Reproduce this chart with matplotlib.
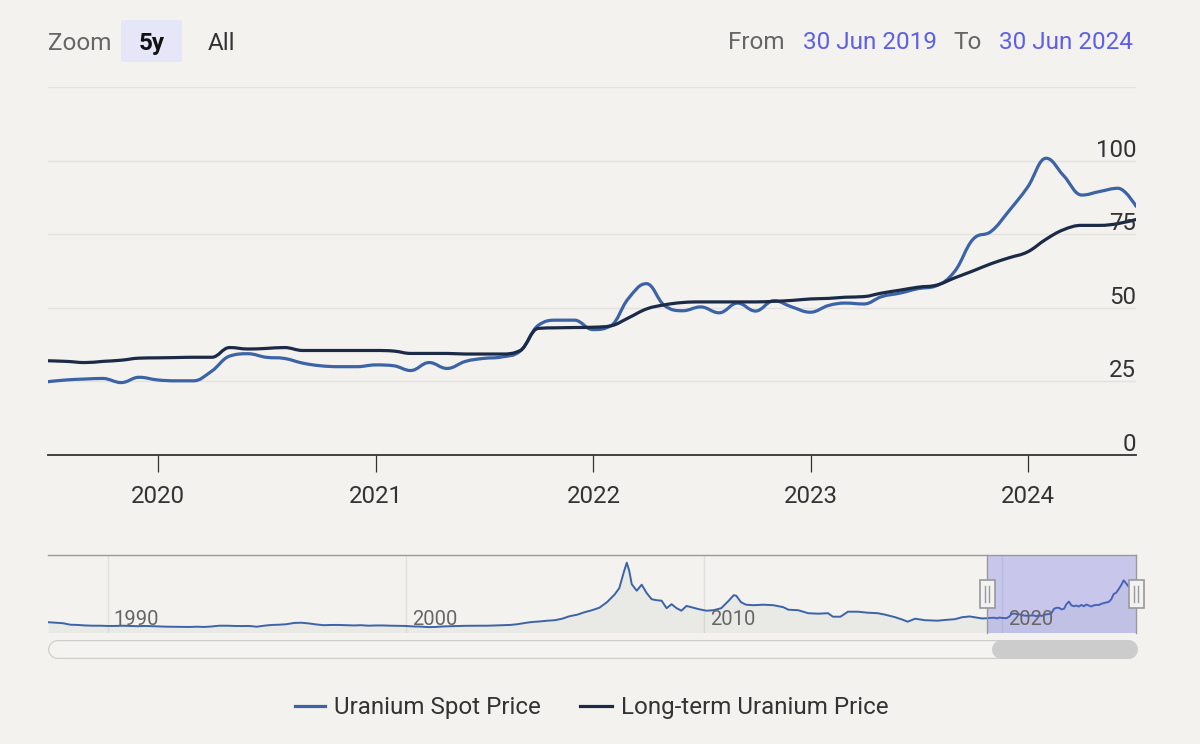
import matplotlib
matplotlib.use('Agg')
import matplotlib.pyplot as plt
import matplotlib.dates as mdates
import matplotlib.transforms as mtransforms
from matplotlib.path import Path
from matplotlib.patches import PathPatch, FancyBboxPatch, Rectangle
from matplotlib.lines import Line2D
import numpy as np
import pandas as pd

# ---------------- data ----------------
main_start = '2019-06-30'
main_end = '2024-06-30'

spot_price = [24.9, 25.5, 25.8, 26.0, 24.6, 26.4, 25.5, 25.2, 25.2, 28.5,
              33.6, 34.4, 33.2, 32.8, 31.2, 30.3, 30.0, 30.0, 30.6, 30.3,
              28.7, 31.4, 29.4, 31.8, 32.8, 33.3, 35.3, 44.0, 45.8, 45.8,
              42.6, 44.0, 53.0, 58.2, 50.8, 49.0, 50.3, 48.3, 51.6, 48.9,
              52.4, 50.3, 48.5, 50.8, 51.6, 51.3, 53.8, 55.0, 56.5, 57.5,
              62.5, 73.2, 76.0, 83.0, 91.0, 100.8, 95.0, 88.3, 89.5, 90.6,
              84.5]

long_term_price = [32.0, 31.8, 31.4, 31.8, 32.2, 32.9, 33.0, 33.1, 33.2, 33.2,
                   36.5, 36.0, 36.2, 36.5, 35.5, 35.5, 35.5, 35.5, 35.5, 35.3,
                   34.5, 34.5, 34.5, 34.3, 34.3, 34.3, 35.5, 43.0, 43.2, 43.3,
                   43.4, 43.9, 46.5, 49.6, 51.0, 51.8, 52.0, 52.0, 52.0, 52.0,
                   52.2, 52.5, 53.0, 53.2, 53.6, 53.8, 55.0, 56.0, 57.0, 57.7,
                   60.2, 62.5, 65.0, 67.0, 69.0, 73.3, 76.5, 78.0, 78.0, 78.6,
                   80.0]

history_dates = ['1988-01', '1988-04', '1988-07', '1988-10', '1989-01', '1989-04', '1989-07', '1989-10',
                 '1990-01', '1990-04', '1990-07', '1990-10', '1991-01', '1991-04', '1991-07', '1991-10',
                 '1992-01', '1992-04', '1992-07', '1992-10', '1993-01', '1993-04', '1993-07', '1993-10',
                 '1994-01', '1994-04', '1994-07', '1994-10', '1995-01', '1995-04', '1995-07', '1995-10',
                 '1996-01', '1996-04', '1996-07', '1996-10', '1997-01', '1997-04', '1997-07', '1997-10',
                 '1998-01', '1998-04', '1998-07', '1998-10', '1999-01', '1999-04', '1999-07', '1999-10',
                 '2000-01', '2000-04', '2000-07', '2000-10', '2001-01', '2001-04', '2001-07', '2001-10',
                 '2002-01', '2002-04', '2002-07', '2002-10', '2003-01', '2003-04', '2003-07', '2003-10',
                 '2004-01', '2004-04', '2004-07', '2004-10', '2005-01', '2005-04', '2005-07', '2005-10',
                 '2006-01', '2006-04', '2006-07', '2006-10', '2007-01', '2007-03', '2007-05', '2007-06',
                 '2007-07', '2007-08', '2007-10', '2007-12', '2008-02', '2008-04', '2008-06', '2008-08',
                 '2008-10', '2008-12', '2009-02', '2009-04', '2009-06', '2009-08', '2009-11', '2010-02',
                 '2010-05', '2010-08', '2010-11', '2011-01', '2011-02', '2011-04', '2011-06', '2011-09',
                 '2012-01', '2012-05', '2012-09', '2012-11', '2013-03', '2013-07', '2013-11', '2014-03',
                 '2014-05', '2014-08', '2014-11', '2015-03', '2015-07', '2015-11', '2016-02', '2016-06',
                 '2016-09', '2016-11', '2017-02', '2017-06', '2017-11', '2018-02', '2018-06', '2018-09',
                 '2018-12', '2019-03', '2019-05']
history_spot = [17.0, 16.0, 15.0, 12.0, 11.5, 10.5, 10.0, 10.0,
                9.5, 9.5, 10.0, 9.5, 9.0, 9.5, 9.0, 8.5,
                8.0, 7.8, 7.8, 7.5, 8.0, 7.5, 8.5, 10.0,
                10.0, 9.5, 9.3, 9.5, 8.0, 10.0, 11.5, 12.0,
                13.0, 15.5, 16.0, 14.5, 12.5, 11.0, 11.5, 11.5,
                11.0, 10.5, 11.0, 10.0, 10.5, 10.5, 10.0, 9.8,
                9.5, 8.5, 8.2, 7.2, 7.5, 8.5, 9.0, 9.3,
                9.8, 10.0, 10.0, 10.0, 10.5, 11.0, 11.5, 13.0,
                15.5, 17.5, 18.5, 20.0, 21.0, 24.0, 29.0, 32.0,
                37.0, 41.0, 46.0, 57.0, 72.0, 85.0, 120.0, 136.0,
                120.0, 93.0, 80.0, 92.0, 75.0, 63.0, 61.0, 60.0,
                45.0, 53.0, 45.0, 40.0, 49.5, 47.0, 43.0, 40.0,
                41.0, 45.0, 60.0, 71.0, 70.0, 57.0, 52.0, 51.0,
                52.0, 51.0, 47.0, 42.0, 41.0, 35.0, 34.0, 35.0,
                28.0, 28.0, 38.0, 38.0, 36.0, 35.0, 32.0, 27.0,
                22.0, 18.0, 24.0, 21.0, 20.0, 21.5, 23.0, 27.0,
                28.5, 26.0, 24.5]

y_ticks = [0, 25, 50, 75, 100]
x_tick_years = ['2020', '2021', '2022', '2023', '2024']
nav_years = ['1990', '2000', '2010', '2020']
series_names = ['Uranium Spot Price', 'Long-term Uranium Price']

# ---------------- style ----------------
BG = '#f3f2ee'
SPOT = '#3b63a6'
LONG = '#1b2a46'
GRID = '#e2e2e0'
FONT = ['Roboto', 'DejaVu Sans']
plt.rcParams['font.family'] = FONT

W, H = 1200, 744
fig = plt.figure(figsize=(12, 7.44), dpi=100)
fig.patch.set_facecolor(BG)
PT = 72 / 100  # points per pixel


def fx(px):
    return px / W


def fy(py):
    return 1 - py / H


months = pd.date_range(main_start, main_end, freq='ME')
xm = mdates.date2num(months)


def spline_path(xs, ys):
    """Highcharts-style spline path (cubic Bezier through the data points)."""
    n = len(xs)
    sm, den = 1.5, 2.5
    lc = [None] * n
    rc = [None] * n
    for i in range(1, n - 1):
        px, py = xs[i], ys[i]
        lx, ly = xs[i - 1], ys[i - 1]
        nx, ny = xs[i + 1], ys[i + 1]
        lcx = (sm * px + lx) / den
        lcy = (sm * py + ly) / den
        rcx = (sm * px + nx) / den
        rcy = (sm * py + ny) / den
        if rcx != lcx:
            corr = ((rcy - lcy) * (rcx - px)) / (rcx - lcx) + py - rcy
            lcy += corr
            rcy += corr
        if lcy > ly and lcy > py:
            lcy = max(ly, py)
            rcy = 2 * py - lcy
        elif lcy < ly and lcy < py:
            lcy = min(ly, py)
            rcy = 2 * py - lcy
        if rcy > ny and rcy > py:
            rcy = max(ny, py)
            lcy = 2 * py - rcy
        elif rcy < ny and rcy < py:
            rcy = min(ny, py)
            lcy = 2 * py - rcy
        lc[i] = (lcx, lcy)
        rc[i] = (rcx, rcy)
    verts = [(xs[0], ys[0])]
    codes = [Path.MOVETO]
    for i in range(1, n):
        c1 = rc[i - 1] if rc[i - 1] is not None else (xs[i - 1], ys[i - 1])
        c2 = lc[i] if lc[i] is not None else (xs[i], ys[i])
        verts += [c1, c2, (xs[i], ys[i])]
        codes += [Path.CURVE4] * 3
    return Path(verts, codes)


# ---------------- main chart ----------------
ax = fig.add_axes([fx(48), fy(455), fx(1088), 368 / H])
ax.set_facecolor('none')
ax.set_xlim(xm[0], xm[-1])
ax.set_ylim(0, 125)
for s in ['top', 'left', 'right']:
    ax.spines[s].set_visible(False)
ax.spines['bottom'].set_color('#333333')
ax.spines['bottom'].set_linewidth(1.3)
ax.set_yticks([0, 25, 50, 75, 100, 125])
ax.yaxis.grid(True, color=GRID, linewidth=1.0)
ax.set_axisbelow(True)
ax.tick_params(axis='y', left=False, labelleft=False)

xt = mdates.date2num(pd.to_datetime([y + '-01-01' for y in x_tick_years]))
ax.set_xticks(xt)
ax.set_xticklabels(x_tick_years)
ax.tick_params(axis='x', length=12.2, width=0.9, color='#333333', pad=9.5,
               labelsize=17.3, labelcolor='#333333')

for name, vals, col in [(series_names[0], spot_price, SPOT), (series_names[1], long_term_price, LONG)]:
    p = spline_path(list(xm), list(vals))
    patch = PathPatch(p, fill=False, edgecolor=col, linewidth=2.3,
                      transform=ax.transData, capstyle='round', joinstyle='round', zorder=3)
    patch.set_clip_path(ax.patch)
    ax.add_patch(patch)

ytrans = mtransforms.blended_transform_factory(ax.transAxes, ax.transData)
for v in y_ticks:
    ax.annotate(str(v), xy=(1.0, v), xycoords=ytrans, xytext=(0, 4),
                textcoords='offset pixels', ha='right', va='baseline',
                fontsize=17.3, color='#333333', zorder=5)

# ---------------- navigator ----------------
nav = fig.add_axes([fx(48), fy(632.5), fx(1088), 77.5 / H])
nav.set_facecolor('none')
hist_x = mdates.date2num(pd.to_datetime([d + '-01' for d in history_dates]))
nav_x = np.concatenate([hist_x, xm])
nav_y = np.concatenate([np.array(history_spot), np.array(spot_price)])
x0 = mdates.date2num(pd.Timestamp('1988-01-01'))
nav.set_xlim(x0, xm[-1])
nav.set_ylim(-3.6, 151.4)
for s in nav.spines.values():
    s.set_visible(False)
nav.set_xticks([])
nav.set_yticks([])
for yr in nav_years:
    gx = mdates.date2num(pd.Timestamp(yr + '-01-01'))
    nav.axvline(gx, color='#e0e0e0', linewidth=1.0, zorder=0)
    nav.annotate(yr, xy=(gx, 0.19), xycoords=mtransforms.blended_transform_factory(nav.transData, nav.transAxes),
                 xytext=(6, -2), textcoords='offset pixels', ha='left', va='center',
                 fontsize=14.5, color='#666666', zorder=4)
nav.fill_between(nav_x, -3.6, nav_y, color=(0.5, 0.5, 0.5, 0.08), linewidth=0, zorder=1)
nav.plot(nav_x, nav_y, color=SPOT, linewidth=1.4, zorder=2)
nav.axvspan(xm[0], xm[-1], color=(102 / 255, 102 / 255, 230 / 255, 0.3), linewidth=0, zorder=3)

# navigator outline
fig.add_artist(Line2D([fx(48), fx(1136)], [fy(555), fy(555)], color='#999999', linewidth=1.0))
for px in (987, 1136):
    fig.add_artist(Line2D([fx(px), fx(px)], [fy(555), fy(632.5)], color='#999999', linewidth=1.0))
# handles
for px in (987, 1136):
    fig.add_artist(Rectangle((fx(px - 7.5), fy(608)), fx(15), 28 / H, facecolor='#f2f2f2',
                             edgecolor='#999999', linewidth=1.2, zorder=6))
    for dx in (-2, 2):
        fig.add_artist(Line2D([fx(px + dx), fx(px + dx)], [fy(586), fy(602)], color='#999999',
                              linewidth=1.0, zorder=7))

# scrollbar (rounded via round caps)
sb_y = fy(648.5)
fig.add_artist(Line2D([fx(48 + 9), fx(1136 - 9)], [sb_y, sb_y], color='#cccccc',
                      linewidth=19 * PT, solid_capstyle='round'))
fig.add_artist(Line2D([fx(48 + 9), fx(1136 - 9)], [sb_y, sb_y], color='#f4f3ef',
                      linewidth=16.6 * PT, solid_capstyle='round'))
fig.add_artist(Line2D([fx(991 + 9.5), fx(1137 - 9.5)], [sb_y, sb_y], color='#cccccc',
                      linewidth=19 * PT, solid_capstyle='round'))

# ---------------- top controls ----------------
fig.text(fx(48), fy(50), 'Zoom', fontsize=17.5, color='#666666', ha='left', va='baseline')
fig.add_artist(FancyBboxPatch((fx(121), fy(62)), fx(61), 42 / H,
                              boxstyle='round,pad=0,rounding_size=0.003',
                              facecolor='#e6e6f9', edgecolor='none'))
fig.text(fx(151.5), fy(50), '5y', fontsize=17.5, color='#111111', ha='center', va='baseline',
         fontweight='bold')
fig.text(fx(221.5), fy(50), 'All', fontsize=17.5, color='#333333', ha='center', va='baseline')
fig.text(fx(728), fy(49), 'From', fontsize=17.5, color='#666666', ha='left', va='baseline')
fig.text(fx(803), fy(49), '30 Jun 2019', fontsize=17.5, color='#5f5fe6', ha='left', va='baseline')
fig.text(fx(953), fy(49), 'To', fontsize=17.5, color='#666666', ha='left', va='baseline')
fig.text(fx(1133), fy(49), '30 Jun 2024', fontsize=17.5, color='#5f5fe6', ha='right', va='baseline')

# ---------------- legend ----------------
for (x1, x2, tx), name, col in zip([(295, 325, 334), (580, 612, 621)], series_names, [SPOT, LONG]):
    fig.add_artist(Line2D([fx(x1), fx(x2)], [fy(706), fy(706)], color=col, linewidth=2.3))
    fig.text(fx(tx), fy(714), name, fontsize=17.4, color='#333333', ha='left', va='baseline')

fig.savefig('out.png', dpi=100, facecolor=BG)
